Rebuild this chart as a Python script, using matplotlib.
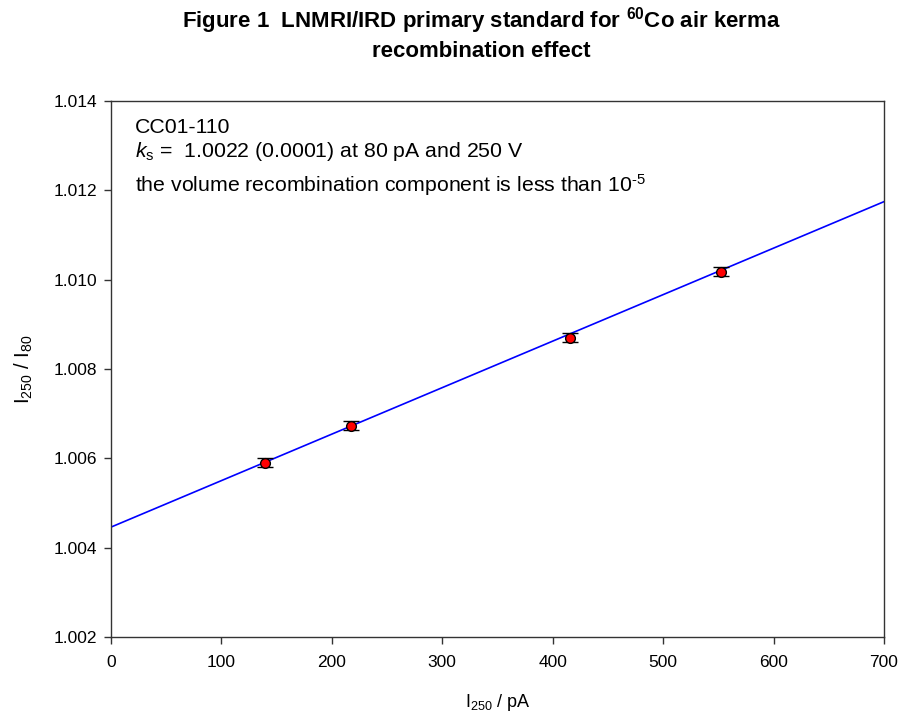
import matplotlib
matplotlib.use("Agg")
import matplotlib.pyplot as plt
import numpy as np

plt.rcParams['font.family'] = ['Liberation Sans', 'DejaVu Sans']
plt.rcParams['mathtext.fontset'] = 'custom'
plt.rcParams['mathtext.rm'] = 'Liberation Sans'
plt.rcParams['mathtext.it'] = 'Liberation Sans:italic'
plt.rcParams['mathtext.bf'] = 'Liberation Sans:bold'

## measured ratios
current = [139.5, 217.3, 415.6, 552.0]
ratio = [1.00590, 1.00673, 1.00870, 1.01018]
ratio_err = [0.0001, 0.0001, 0.0001, 0.0001]

## linear fit drawn across the full axis
fit_x = [0, 700]
fit_intercept = 1.00446
fit_slope = 1.041e-5

xticks = [0, 100, 200, 300, 400, 500, 600, 700]
yticks = [1.002, 1.004, 1.006, 1.008, 1.010, 1.012, 1.014]

fig = plt.figure(figsize=(8.98, 7.2), dpi=100)
ax = fig.add_axes([0.1236, 0.1153, 0.8608, 0.7444])

fx = np.array(fit_x)
ax.plot(fx, fit_intercept + fit_slope * fx, color='blue', lw=1.2, zorder=2)
ax.errorbar(current, ratio, yerr=ratio_err, fmt='o', color='black',
            mfc='red', mec='black', ms=7, mew=1.0, ecolor='black',
            elinewidth=1.1, capsize=6, capthick=1.3, zorder=3)

ax.set_xlim(0, 700)
ax.set_ylim(1.002, 1.014)
ax.set_xticks(xticks)
ax.set_yticks(yticks)
ax.set_yticklabels(["%.3f" % v for v in yticks])
ax.tick_params(direction='out', length=5, width=1, labelsize=12.5, color='#333333')
ax.tick_params(axis='x', pad=8)
ax.tick_params(axis='y', pad=5)
for s in ax.spines.values():
    s.set_linewidth(1)
    s.set_color('#333333')

ax.set_xlabel(r"I$_{250}$ / pA", fontsize=13, labelpad=16)
ax.set_ylabel(r"I$_{250}$ / I$_{80}$", fontsize=14.5, labelpad=13)

fig.text(0.536, 0.9625, r"Figure 1  LNMRI/IRD primary standard for $^{\mathbf{60}}$Co air kerma",
         ha='center', va='baseline', fontsize=16, fontweight='bold')
fig.text(0.536, 0.921, "recombination effect", ha='center', va='baseline',
         fontsize=16, fontweight='bold')

ax.text(0.031, 0.940, "CC01-110", transform=ax.transAxes, fontsize=15.3,
        va='baseline')
ax.text(0.031, 0.8955, r"$\mathit{k}_{\rm s}$ =  1.0022 (0.0001) at 80 pA and 250 V",
        transform=ax.transAxes, fontsize=15.3, va='baseline')
ax.text(0.031, 0.830, r"the volume recombination component is less than 10$^{\text{-5}}$",
        transform=ax.transAxes, fontsize=15.3, va='baseline')

fig.savefig("out.png", dpi=100)
